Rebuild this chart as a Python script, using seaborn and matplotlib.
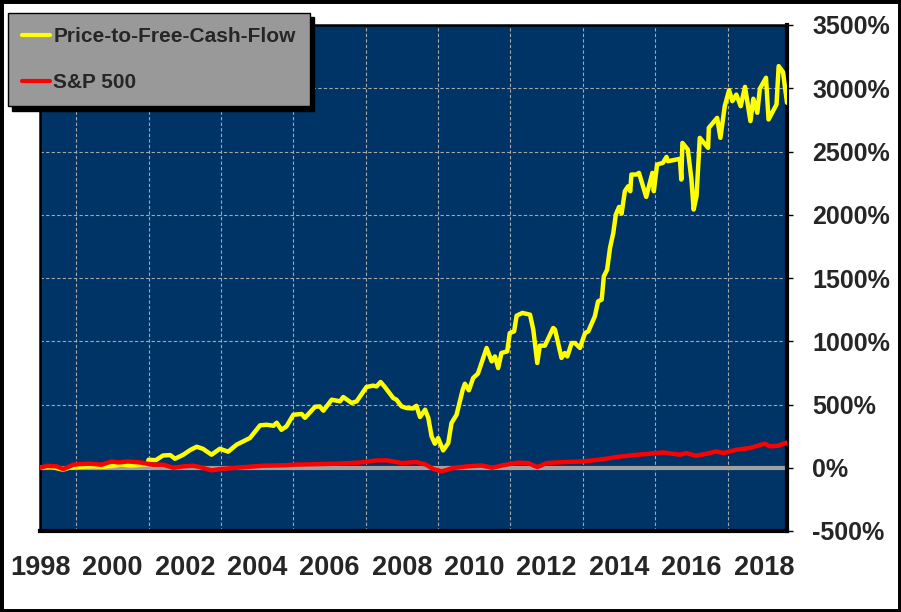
import matplotlib
matplotlib.use("Agg")
import matplotlib.pyplot as plt
import seaborn as sns
import pandas as pd
from matplotlib.patches import Rectangle

# ---------------- data ----------------
pfcf_years = [1998.00, 1998.15, 1998.30, 1998.45, 1998.64, 1998.80, 1999.00, 1999.25, 1999.50, 1999.75,
              2000.00, 2000.25, 2000.50, 2000.75, 2000.97, 2001.00, 2001.20, 2001.40, 2001.60, 2001.73,
              2001.96, 2002.15, 2002.33, 2002.50, 2002.74, 2002.97, 2003.20, 2003.43, 2003.80, 2004.08,
              2004.26, 2004.45, 2004.54, 2004.67, 2004.81, 2005.00, 2005.23, 2005.32, 2005.60, 2005.73,
              2005.83, 2006.06, 2006.29, 2006.38, 2006.61, 2006.75, 2007.02, 2007.20, 2007.30, 2007.41,
              2007.53, 2007.76, 2007.85, 2007.99, 2008.13, 2008.31, 2008.40, 2008.50, 2008.64, 2008.73,
              2008.82, 2008.91, 2009.00, 2009.14, 2009.28, 2009.37, 2009.51, 2009.68, 2009.74, 2009.85,
              2009.97, 2010.10, 2010.34, 2010.48, 2010.57, 2010.66, 2010.75, 2010.91, 2010.98, 2011.10,
              2011.17, 2011.33, 2011.54, 2011.63, 2011.74, 2011.81, 2011.95, 2012.18, 2012.23, 2012.41,
              2012.50, 2012.57, 2012.69, 2012.78, 2012.92, 2013.06, 2013.15, 2013.33, 2013.42, 2013.52,
              2013.58, 2013.67, 2013.75, 2013.84, 2013.91, 2014.00, 2014.07, 2014.16, 2014.25, 2014.31,
              2014.34, 2014.48, 2014.55, 2014.75, 2014.92, 2014.96, 2015.05, 2015.21, 2015.31, 2015.35,
              2015.68, 2015.72, 2015.75, 2015.90, 2016.00, 2016.06, 2016.14, 2016.23, 2016.46, 2016.48,
              2016.71, 2016.80, 2016.92, 2017.04, 2017.13, 2017.24, 2017.36, 2017.48, 2017.63, 2017.71,
              2017.82, 2017.89, 2018.06, 2018.13, 2018.35, 2018.41, 2018.53, 2018.64]
pfcf_values = [0, 5, 8, -3, -15, 0, 5, 10, 12, 8,
               15, 25, 18, 22, 28, 63, 60, 97, 100, 71,
               103, 140, 166, 150, 103, 150, 127, 182, 235, 335,
               340, 332, 356, 300, 327, 419, 425, 395, 482, 485,
               451, 538, 525, 559, 512, 525, 638, 649, 643, 678,
               638, 551, 538, 485, 472, 469, 490, 401, 459, 393,
               248, 190, 235, 137, 195, 353, 419, 617, 664, 612,
               710, 744, 947, 841, 880, 788, 907, 920, 1065, 1078,
               1202, 1224, 1210, 1092, 828, 965, 965, 1105, 1092, 868,
               907, 880, 986, 986, 947, 1065, 1078, 1197, 1315, 1329,
               1513, 1566, 1738, 1856, 2001, 2062, 2009, 2186, 2225, 2186,
               2318, 2318, 2331, 2141, 2331, 2186, 2397, 2410, 2457, 2423,
               2442, 2278, 2568, 2515, 2278, 2041, 2146, 2608, 2529, 2687,
               2766, 2608, 2858, 2985, 2898, 2950, 2858, 3011, 2740, 2917,
               2806, 2996, 3083, 2753, 2871, 3175, 3127, 2885]

sp_years = [1998.00, 1998.20, 1998.46, 1998.64, 1998.92, 1999.15, 1999.38, 1999.70, 1999.98, 2000.16,
            2000.44, 2000.76, 2001.13, 2001.41, 2001.68, 2001.96, 2002.23, 2002.42, 2002.74, 2002.97,
            2003.43, 2004.17, 2004.80, 2005.00, 2005.60, 2006.20, 2006.80, 2007.30, 2007.60, 2008.00,
            2008.40, 2008.67, 2008.87, 2009.10, 2009.40, 2009.80, 2010.20, 2010.50, 2010.80, 2011.20,
            2011.49, 2011.74, 2012.00, 2012.50, 2013.00, 2013.50, 2013.93, 2014.40, 2014.85, 2015.22,
            2015.68, 2015.86, 2016.12, 2016.40, 2016.69, 2016.88, 2017.24, 2017.61, 2018.03, 2018.17,
            2018.40, 2018.64]
sp_values = [0, 15, 11, -11, 24, 30, 32, 24, 50, 42,
             50, 42, 24, 24, 0, 11, 16, 5, -21, -11,
             0, 16, 20, 24, 28, 32, 40, 58, 58, 37,
             45, 24, -11, -29, -3, 11, 18, 0, 20, 40,
             37, 5, 37, 45, 50, 65, 85, 100, 111, 121,
             103, 116, 95, 110, 129, 116, 142, 156, 190, 169,
             174, 200]

series_names = ["Price-to-Free-Cash-Flow", "S&P 500"]
x_tick_years = list(range(1998, 2019, 2))
x_grid_years = list(range(1998, 2019))
y_ticks = [-500, 0, 500, 1000, 1500, 2000, 2500, 3000, 3500]
y_tick_labels = [f"{v}%" for v in y_ticks]

# ---------------- style ----------------
sns.set_style("white")
plt.rcParams["font.family"] = ["Liberation Sans", "DejaVu Sans"]
plt.rcParams["font.weight"] = "bold"

fig = plt.figure(figsize=(9.01, 6.12), dpi=100)
fig.patch.set_facecolor("white")
ax = fig.add_axes([40 / 901, 81 / 612, 747 / 901, 506 / 612])
ax.set_facecolor("#003366")

pf = pd.DataFrame({"year": pfcf_years, "value": pfcf_values})
sp = pd.DataFrame({"year": sp_years, "value": sp_values})

ax.axhline(0, color="#a0a0a0", lw=3, zorder=2)
sns.lineplot(data=pf, x="year", y="value", ax=ax, color="#FFFF00", lw=3.2,
             label=series_names[0], zorder=3)
sns.lineplot(data=sp, x="year", y="value", ax=ax, color="#FF0000", lw=3.2,
             label=series_names[1], zorder=4)

ax.set_xlim(1998, 2018.64)
ax.set_ylim(-500, 3500)
ax.set_xlabel("")
ax.set_ylabel("")

ax.set_xticks(x_tick_years)
ax.set_xticklabels([str(y) for y in x_tick_years])
ax.set_xticks(x_grid_years, minor=True)
ax.tick_params(axis="x", which="both", length=0, pad=17, labelsize=19.5)

ax.yaxis.tick_right()
ax.set_yticks(y_ticks)
ax.set_yticklabels(y_tick_labels)
ax.tick_params(axis="y", which="major", right=True, left=False, length=4, width=1,
               color="black", pad=14, labelsize=18)
for lab in ax.get_xticklabels() + ax.get_yticklabels():
    lab.set_fontweight("bold")

ax.grid(True, axis="x", which="minor", color="#a8a8a8", ls=(0, (3, 2)), lw=0.8)
ax.grid(True, axis="y", which="major", color="#a8a8a8", ls=(0, (3, 2)), lw=0.8)
ax.grid(False, axis="x", which="major")
ax.set_axisbelow(True)

for side in ["left", "top"]:
    ax.spines[side].set_linewidth(1.8)
    ax.spines[side].set_color("black")
for side in ["right", "bottom"]:
    ax.spines[side].set_linewidth(3)
    ax.spines[side].set_color("black")
for s in ax.spines.values():
    s.set_visible(True)

leg = ax.legend(loc="upper left", bbox_to_anchor=(8 / 901, 1 - 13 / 612),
                bbox_transform=fig.transFigure, borderaxespad=0,
                frameon=True, fancybox=False,
                shadow={"color": "black", "alpha": 1.0, "ox": 3, "oy": -3},
                facecolor="#999999", edgecolor="black", framealpha=1,
                prop={"family": "Liberation Sans", "weight": "bold", "size": 15},
                handlelength=1.35, handletextpad=0.15, labelspacing=1.3,
                borderpad=0.68)
leg.get_frame().set_linewidth(1)
for h in leg.get_lines():
    h.set_linewidth(3)

fig.add_artist(Rectangle((0, 0), 1, 1, transform=fig.transFigure, fill=False,
                         edgecolor="black", lw=5, zorder=10))

fig.savefig("out.png", dpi=100)
